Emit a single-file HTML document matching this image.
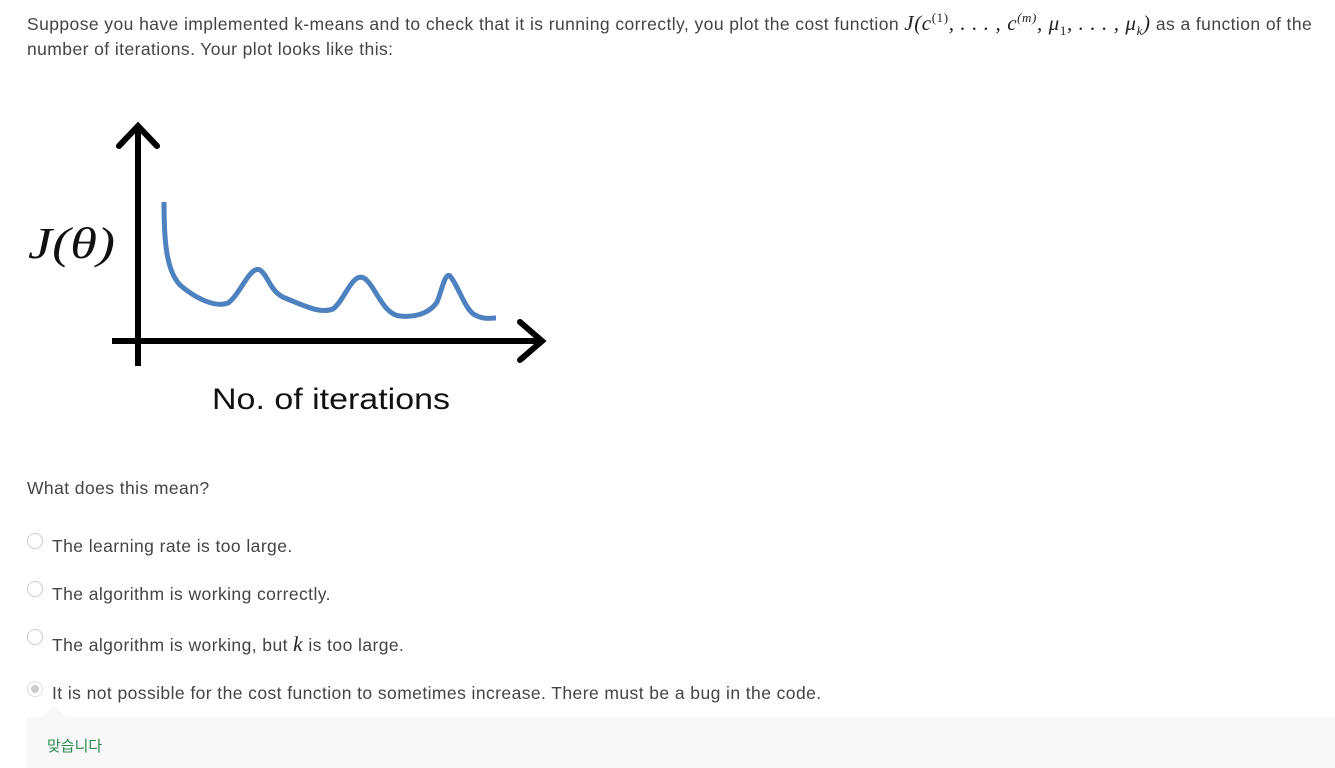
<!DOCTYPE html>
<html><head><meta charset="utf-8"><style>
body{margin:0;width:1335px;height:768px;overflow:hidden;background:#fff;font-family:"Liberation Sans","Noto Sans CJK KR",sans-serif;color:#333;position:relative}
.t{position:absolute;font-size:17.5px;letter-spacing:0.42px;white-space:nowrap;color:#444}
.m{font-family:"Liberation Serif",serif;font-style:italic;font-size:21px;color:#222;letter-spacing:0.6px}
.r{position:absolute;left:27px;width:14px;height:14px;border:1px solid #ccc;border-radius:50%;background:#fff}
</style></head><body>
<div class="t" style="left:27px;top:10px">Suppose you have implemented k-means and to check that it is running correctly, you plot the cost function <span class="m">J(c<sup style="font-size:13px;font-style:normal">(1)</sup>, . . . , c<sup style="font-size:13px">(m)</sup>, μ<sub style="font-size:13px;font-style:normal">1</sub>, . . . , μ<sub style="font-size:13px">k</sub>)</span> as a function of the</div>
<div class="t" style="left:27px;top:39px">number of iterations. Your plot looks like this:</div>
<svg style="position:absolute;left:0;top:0" width="600" height="430">
<text x="28" y="258" font-family="Liberation Serif" font-style="italic" font-size="44" fill="#111" textLength="87" lengthAdjust="spacingAndGlyphs">J(θ)</text>
<g stroke="#000" stroke-width="6" fill="none" stroke-linecap="round">
<line x1="138" y1="126" x2="138" y2="366" stroke-linecap="butt"/>
<polyline points="119,146 138,126 157,146"/>
<line x1="112" y1="341" x2="542" y2="341" stroke-linecap="butt"/>
<polyline points="520,322 542,341 520,360"/>
</g>
<path d="M164,202 C164,240 166,270 180,285 C195,298 215,308 228,303 C240,295 250,265 260,270 C268,275 270,292 285,298 C305,306 320,314 333,309 C345,300 352,272 364,278 C375,285 383,315 400,316 C420,318 432,310 437,302 C442,290 445,272 450,276 C458,285 465,310 475,315 C485,320 490,318 496,318" stroke="#4e81bf" stroke-width="5" fill="none"/>
<text x="212" y="409" font-family="Liberation Sans" font-size="30" fill="#111" textLength="238" lengthAdjust="spacingAndGlyphs">No. of iterations</text>
</svg>
<div class="t" style="left:27px;top:478px">What does this mean?</div>
<div class="r" style="top:533px"></div><div class="t" style="left:52px;top:536px">The learning rate is too large.</div>
<div class="r" style="top:581px"></div><div class="t" style="left:52px;top:584px">The algorithm is working correctly.</div>
<div class="r" style="top:629px"></div><div class="t" style="left:52px;top:632px">The algorithm is working, but <span class="m">k</span> is too large.</div>
<div class="r" style="top:681px;background:#fff;border-color:#ddd"><div style="position:absolute;left:3px;top:3px;width:8px;height:8px;border-radius:50%;background:#ccc"></div></div>
<div class="t" style="left:52px;top:683px">It is not possible for the cost function to sometimes increase. There must be a bug in the code.</div>
<div style="position:absolute;left:27px;top:717px;width:1308px;height:51px;background:#f8f8f8"></div>
<div style="position:absolute;left:42px;top:705px;width:0;height:0;border-left:12px solid transparent;border-right:12px solid transparent;border-bottom:12px solid #f8f8f8"></div>
<div style="position:absolute;left:47px;top:735px;font-size:15px;color:#2a8a50">맞습니다</div>
</body></html>
